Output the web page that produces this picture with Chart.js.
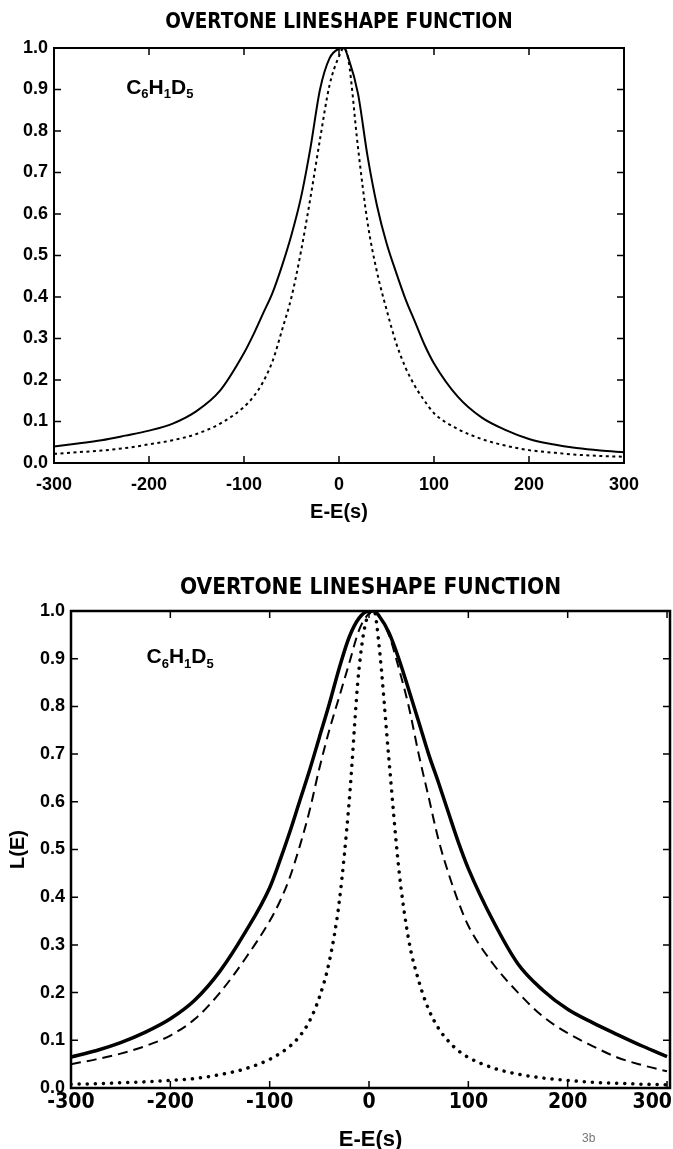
<!DOCTYPE html>
<html>
<head>
<meta charset="utf-8">
<title>Overtone lineshape function</title>
<script src="https://cdn.jsdelivr.net/npm/chart.js@4.4.1/dist/chart.umd.min.js"></script>
<style>
  html, body { margin: 0; padding: 0; background: #fff; width: 673px; height: 1149px; overflow: hidden; }
  #topChart { position: absolute; left: 0; top: 0; }
  #bottomChart { position: absolute; left: 0; top: 560px; }
</style>
</head>
<body>
<canvas id="topChart" width="673" height="530"></canvas>
<canvas id="bottomChart" width="690" height="600"></canvas>
<script>
/* ── Data ───────────────────────────────────────────────── */
const energy = [-300, -275, -250, -225, -200, -175, -150, -125, -100, -90, -80, -70, -60, -50, -40, -30, -20, -10,
  0, 5, 10, 20, 30, 40, 50, 60, 70, 80, 90, 100, 125, 150, 175, 200, 225, 250, 275, 300];

// upper panel
const topSolid = [0.040, 0.047, 0.055, 0.066, 0.078, 0.095, 0.125, 0.175, 0.265, 0.31, 0.36, 0.41, 0.475, 0.55, 0.64, 0.76, 0.90, 0.975,
  0.998, 1.0, 0.975, 0.89, 0.74, 0.62, 0.53, 0.46, 0.395, 0.34, 0.285, 0.24, 0.16, 0.11, 0.08, 0.058, 0.045, 0.036, 0.030, 0.026];
const topDotted = [0.022, 0.026, 0.030, 0.036, 0.045, 0.055, 0.070, 0.095, 0.135, 0.16, 0.195, 0.245, 0.32, 0.40, 0.51, 0.64, 0.78, 0.91,
  0.98, 1.0, 0.97, 0.76, 0.58, 0.46, 0.37, 0.29, 0.23, 0.185, 0.15, 0.12, 0.082, 0.058, 0.042, 0.031, 0.025, 0.020, 0.017, 0.015];

// lower panel
const bottomSolid = [0.065, 0.078, 0.095, 0.117, 0.145, 0.185, 0.245, 0.325, 0.42, 0.475, 0.535, 0.60, 0.665, 0.735, 0.805, 0.88, 0.945, 0.985,
  1.0, 1.0, 0.99, 0.955, 0.90, 0.835, 0.768, 0.70, 0.64, 0.577, 0.515, 0.46, 0.35, 0.26, 0.205, 0.165, 0.137, 0.112, 0.088, 0.066];
const bottomDashed = [0.05, 0.06, 0.072, 0.088, 0.11, 0.145, 0.20, 0.27, 0.35, 0.39, 0.44, 0.505, 0.58, 0.67, 0.75, 0.82, 0.89, 0.96,
  0.995, 1.0, 0.99, 0.95, 0.88, 0.80, 0.70, 0.61, 0.52, 0.45, 0.39, 0.34, 0.26, 0.20, 0.15, 0.115, 0.088, 0.064, 0.048, 0.035];
const bottomDotted = [0.008, 0.009, 0.011, 0.013, 0.016, 0.02, 0.028, 0.04, 0.06, 0.072, 0.087, 0.108, 0.14, 0.19, 0.265, 0.39, 0.60, 0.88,
  0.995, 1.0, 0.93, 0.69, 0.46, 0.31, 0.225, 0.165, 0.125, 0.098, 0.078, 0.064, 0.042, 0.029, 0.021, 0.016, 0.012, 0.01, 0.008, 0.007];

const xTicks = [-300, -200, -100, 0, 100, 200, 300];
const yTickStep = 0.1;
const titleText = 'OVERTONE LINESHAPE FUNCTION';
const xTitle = 'E-E(s)';
const yTitle = 'L(E)';

/* ── Fonts ───────────────────────────────────────────────── */
const COND = "'DejaVu Sans Condensed', 'Liberation Sans', Arial, sans-serif";
const SANS = "'Liberation Sans', Arial, sans-serif";

function pts(vals) {
  return energy.map((e, i) => ({ x: e, y: vals[i] }));
}

/* ── Plugins: boxed frame with inward ticks, heading, formula ─ */
const framePlugin = {
  id: 'frame',
  afterDatasetsDraw(chart, args, opts) {
    const { ctx, chartArea: a, scales: { x, y } } = chart;
    ctx.save();
    ctx.strokeStyle = '#000';
    ctx.lineWidth = opts.width;
    ctx.strokeRect(a.left, a.top, a.right - a.left, a.bottom - a.top);
    ctx.lineWidth = opts.tickWidth;
    ctx.beginPath();
    x.ticks.forEach(t => {
      if (t.value <= x.min || t.value >= x.max) return;
      const px = x.getPixelForValue(t.value);
      ctx.moveTo(px, a.bottom); ctx.lineTo(px, a.bottom - opts.len);
      ctx.moveTo(px, a.top); ctx.lineTo(px, a.top + opts.len);
    });
    y.ticks.forEach(t => {
      if (t.value <= y.min + 1e-9 || t.value >= y.max - 1e-9) return;
      const py = y.getPixelForValue(t.value);
      ctx.moveTo(a.left, py); ctx.lineTo(a.left + opts.len, py);
      ctx.moveTo(a.right, py); ctx.lineTo(a.right - opts.len, py);
    });
    ctx.stroke();
    ctx.restore();
  }
};

const headingPlugin = {
  id: 'heading',
  afterDraw(chart, args, opts) {
    const { ctx, chartArea: a } = chart;
    ctx.save();
    ctx.fillStyle = '#000';
    ctx.font = 'bold ' + opts.size + 'px ' + COND;
    ctx.textAlign = 'center';
    ctx.textBaseline = 'middle';
    ctx.fillText(opts.text, (a.left + a.right) / 2, opts.y);
    ctx.restore();
  }
};

const formulaPlugin = {
  id: 'formula',
  afterDraw(chart, args, opts) {
    const { ctx, scales: { x, y } } = chart;
    let px = x.getPixelForValue(opts.x);
    const py = y.getPixelForValue(opts.y);
    const parts = [['C', false], ['6', true], ['H', false], ['1', true], ['D', false], ['5', true]];
    ctx.save();
    ctx.fillStyle = '#000';
    ctx.textBaseline = 'alphabetic';
    parts.forEach(([s, sub]) => {
      ctx.font = 'bold ' + (sub ? opts.subSize : opts.size) + 'px ' + SANS;
      ctx.fillText(s, px, sub ? py + opts.size * 0.22 : py);
      px += ctx.measureText(s).width;
    });
    // last x label of the lower panel sits flush against the page edge
    if (opts.edgeLabel && x._labelItems && x._labelItems.length) {
      const it = x._labelItems[0];
      ctx.font = 'bold ' + opts.edgeSize + 'px ' + COND;
      ctx.textAlign = 'right';
      ctx.textBaseline = it.options.textBaseline;
      ctx.fillText(opts.edgeLabel, opts.edgeRight, it.options.translation[1] + it.textOffset);
    }
    if (opts.note) {
      ctx.font = '12px ' + SANS;
      ctx.textAlign = 'left';
      ctx.textBaseline = 'alphabetic';
      ctx.fillStyle = '#777';
      ctx.fillText(opts.note, opts.noteX, opts.noteY);
    }
    ctx.restore();
  }
};

const fixedTicks = s => { s.ticks = xTicks.map(v => ({ value: v })); };

/* ── Upper panel ─────────────────────────────────────────── */
new Chart(document.getElementById('topChart'), {
  type: 'line',
  data: {
    datasets: [
      { data: pts(topSolid), borderColor: '#000', borderWidth: 2, pointRadius: 0, cubicInterpolationMode: 'monotone' },
      { data: pts(topDotted), borderColor: '#000', borderWidth: 2, borderDash: [3, 3.5], pointRadius: 0, cubicInterpolationMode: 'monotone' }
    ]
  },
  options: {
    responsive: false, animation: false,
    layout: { padding: { left: 0, right: 49, top: 48, bottom: 0 } },
    plugins: {
      legend: { display: false },
      tooltip: { enabled: false },
      heading: { text: titleText, size: 20.5, y: 23 },
      frame: { width: 2, tickWidth: 1.5, len: 7 },
      formula: { x: -224, y: 0.89, size: 21, subSize: 13 }
    },
    scales: {
      x: {
        type: 'linear', min: -300, max: 300,
        grid: { display: false, drawTicks: false }, border: { display: false },
        afterBuildTicks: fixedTicks,
        ticks: { padding: 11, maxRotation: 0, color: '#000', font: { family: SANS, size: 18, weight: 'bold' } },
        title: { display: true, text: xTitle, color: '#000', font: { family: SANS, size: 20, weight: 'bold' }, padding: { top: 0, bottom: 6 } },
        afterFit: s => { s.height = 67; }
      },
      y: {
        min: 0, max: 1,
        grid: { display: false, drawTicks: false }, border: { display: false },
        ticks: { stepSize: yTickStep, padding: 6, color: '#000', font: { family: SANS, size: 18, weight: 'bold' }, callback: v => v.toFixed(1) },
        afterFit: s => { s.width = 54; }
      }
    }
  },
  plugins: [framePlugin, headingPlugin, formulaPlugin]
});

/* ── Lower panel ─────────────────────────────────────────── */
new Chart(document.getElementById('bottomChart'), {
  type: 'line',
  data: {
    datasets: [
      { data: pts(bottomSolid), borderColor: '#000', borderWidth: 3.5, pointRadius: 0, cubicInterpolationMode: 'monotone' },
      { data: pts(bottomDashed), borderColor: '#000', borderWidth: 2, borderDash: [10, 6], pointRadius: 0, cubicInterpolationMode: 'monotone' },
      { data: pts(bottomDotted), borderColor: '#000', borderWidth: 3.5, borderDash: [0.1, 8], borderCapStyle: 'round', pointRadius: 0, cubicInterpolationMode: 'monotone' }
    ]
  },
  options: {
    responsive: false, animation: false,
    layout: { padding: { left: 0, right: 20, top: 51, bottom: 0 } },
    plugins: {
      legend: { display: false },
      tooltip: { enabled: false },
      heading: { text: titleText, size: 22.5, y: 28 },
      frame: { width: 2.5, tickWidth: 1.5, len: 7 },
      formula: { x: -224, y: 0.89, size: 21, subSize: 13, note: '3b', noteX: 582, noteY: 582,
        edgeLabel: '300', edgeRight: 672, edgeSize: 21 }
    },
    scales: {
      x: {
        type: 'linear', min: -300, max: 303,
        grid: { display: false, drawTicks: false }, border: { display: false },
        afterBuildTicks: fixedTicks,
        ticks: { padding: 2, maxRotation: 0, color: '#000', font: { family: COND, size: 21, weight: 'bold' },
          callback: v => (v === 300 ? '' : v) },
        title: { display: true, text: xTitle, color: '#000', font: { family: SANS, size: 22, weight: 'bold' }, padding: { top: 0, bottom: 7 } },
        afterFit: s => { s.height = 72; }
      },
      y: {
        min: 0, max: 1,
        grid: { display: false, drawTicks: false }, border: { display: false },
        ticks: { stepSize: yTickStep, padding: 6, color: '#000', font: { family: SANS, size: 18, weight: 'bold' }, callback: v => v.toFixed(1) },
        title: { display: true, text: yTitle, color: '#000', font: { family: SANS, size: 20, weight: 'bold' }, padding: { top: 6, bottom: 0 } },
        afterFit: s => { s.width = 71; }
      }
    }
  },
  plugins: [framePlugin, headingPlugin, formulaPlugin]
});
</script>
</body>
</html>
